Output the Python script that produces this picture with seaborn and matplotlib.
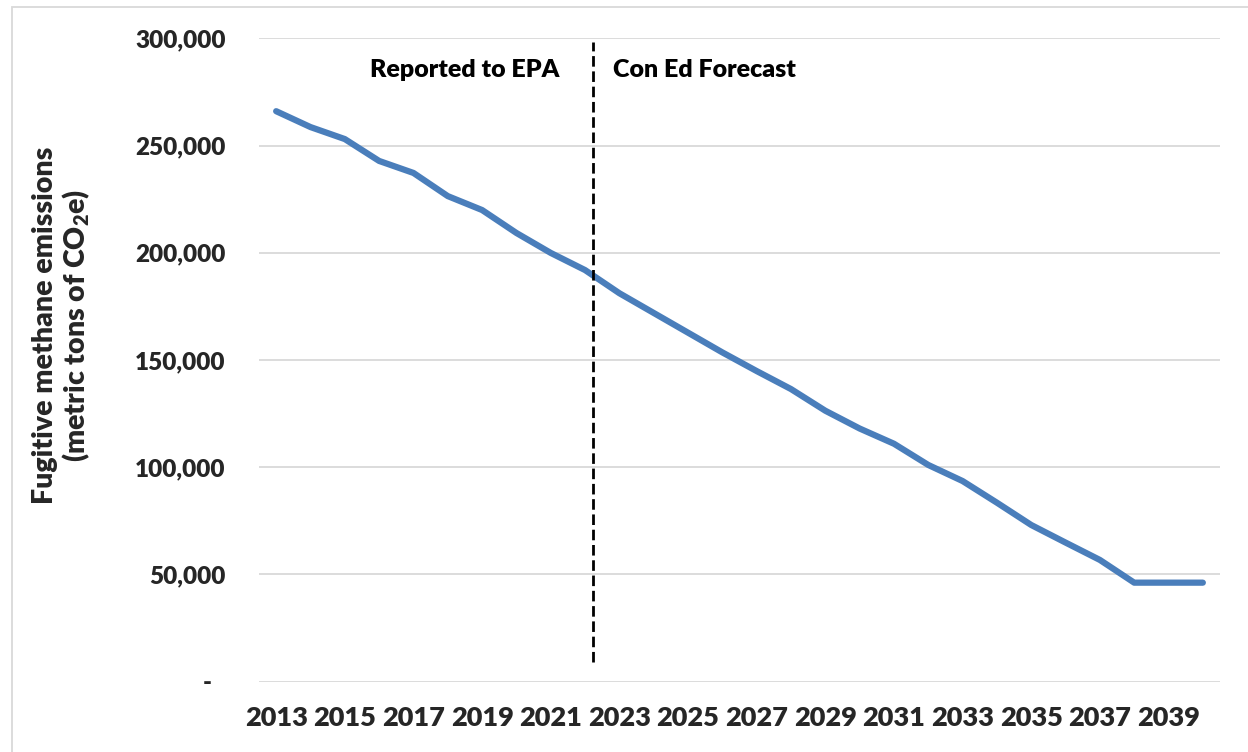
import matplotlib
matplotlib.use("Agg")
import matplotlib.pyplot as plt
from matplotlib.patches import Rectangle
import seaborn as sns
import pandas as pd

# Fugitive methane emissions, metric tons CO2e (reported through 2022, forecast after)
years = list(range(2013, 2041))
emissions = [266000, 258600, 253000, 242800, 237200, 226400, 219900, 209200,
             199900, 191900, 181100, 171900, 162700, 153500, 144800, 136400,
             126300, 118000, 110900, 101000, 93500, 83400, 73000, 64800,
             56700, 46100, 46100, 46100]
y_ticks = [0, 50000, 100000, 150000, 200000, 250000, 300000]
y_tick_labels = ["-", "50,000", "100,000", "150,000", "200,000", "250,000", "300,000"]
x_tick_years = years[::2]
split_year = 2022.23
left_label = "Reported to EPA"
right_label = "Con Ed Forecast"
y_title = "Fugitive methane emissions\n(metric tons of CO$_{2}$e)"

sns.set_theme(style="white")
plt.rcParams["font.family"] = ["Lato", "DejaVu Sans"]
plt.rcParams["mathtext.default"] = "regular"

WEIGHT = "heavy"

df = pd.DataFrame({"year": years, "emissions": emissions})

W, H = 1248, 752
fig = plt.figure(figsize=(W / 100, H / 100), dpi=100)
fig.patch.set_facecolor("white")

# chart frame
fig.patches.append(Rectangle((12 / W, -0.1), 1.2, 1.1 - 7 / H, transform=fig.transFigure,
                             fill=False, edgecolor="#d9d9d9", linewidth=1.3))

ax = fig.add_axes([259 / W, (H - 681.5) / H, 961 / W, 643.2 / H])
ax.set_facecolor("none")

for v in y_ticks:
    ax.axhline(v, color="#d9d9d9", linewidth=1.3, zorder=0)

sns.lineplot(data=df, x="year", y="emissions", ax=ax, color="#4a7ebb",
             linewidth=4.5, solid_capstyle="round", solid_joinstyle="round", zorder=3)

ax.plot([split_year, split_year], [9000, 298500], color="black",
        linestyle=(0, (3.8, 1.7)), linewidth=2.0, zorder=4)

ax.set_xlim(2012.5, 2040.5)
ax.set_ylim(0, 300000)
ax.set_xticks(x_tick_years)
ax.set_xticklabels([str(y) for y in x_tick_years], fontsize=19.5, fontweight=WEIGHT)
ax.set_yticks(y_ticks)
ax.set_yticklabels(y_tick_labels, fontsize=17.5, fontweight=WEIGHT)
ax.tick_params(axis="x", length=0, pad=18)
ax.tick_params(axis="y", length=0, pad=24)
for lab in ax.get_yticklabels():
    if lab.get_text() == "-":
        lab.set_x(-0.014)
ax.set_xlabel("")
ax.set_ylabel("")
for s in ax.spines.values():
    s.set_visible(False)

ax.text((465 - 259) / 961, (681.5 - 70) / 643.2, left_label, transform=ax.transAxes,
        ha="center", va="center", fontsize=18, fontweight=WEIGHT, color="black")
ax.text((613 - 259) / 961, (681.5 - 70) / 643.2, right_label, transform=ax.transAxes,
        ha="left", va="center", fontsize=18, fontweight=WEIGHT, color="black")

fig.text(62 / W, 1 - 325 / H, y_title, rotation=90, ha="center", va="center",
         fontsize=20.5, fontweight=WEIGHT, linespacing=1.08, multialignment="center")

fig.savefig("out.png", dpi=100)
